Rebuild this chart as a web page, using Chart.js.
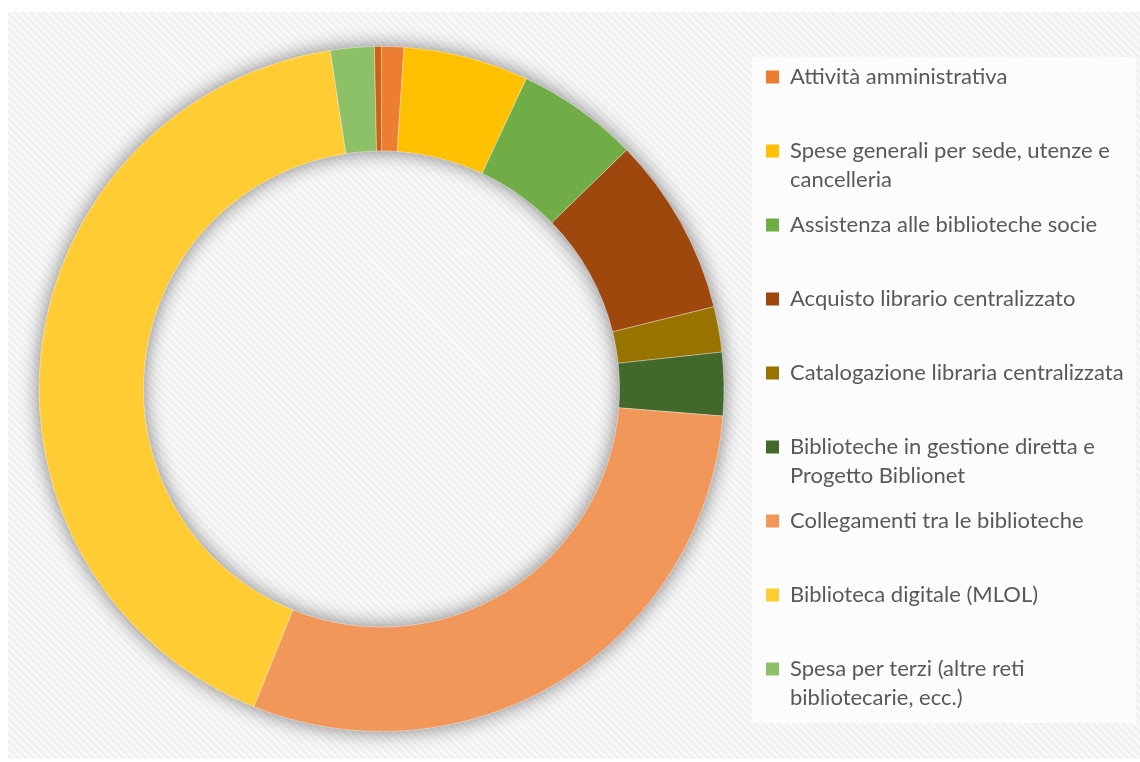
<!DOCTYPE html>
<html>
<head>
<meta charset="utf-8">
<script src="https://cdn.jsdelivr.net/npm/chart.js@4/dist/chart.umd.min.js"></script>
<style>
  html, body { margin: 0; padding: 0; background: #ffffff; }
  #wrap { position: relative; width: 1140px; height: 762px; overflow: hidden; background: #ffffff; }
  #stripes {
    position: absolute; left: 8px; top: 12px; width: 1132px; height: 747px;
    background: repeating-linear-gradient(45deg, #fbfbfb 0px, #efefef 2.7px, #fbfbfb 5.3px);
  }
  #legendBox {
    position: absolute; left: 752px; top: 57px; width: 384px; height: 666px;
    background: #fcfcfc;
  }
  #c { position: absolute; left: 0; top: 0; }
</style>
</head>
<body>
<div id="wrap">
  <div id="stripes"></div>
  <div id="legendBox"></div>
  <canvas id="c" width="1140" height="762"></canvas>
</div>
<script>
// Categories (full names)
const categories = [
  "Attività amministrativa",
  "Spese generali per sede, utenze e cancelleria",
  "Assistenza alle biblioteche socie",
  "Acquisto librario centralizzato",
  "Catalogazione libraria centralizzata",
  "Biblioteche in gestione diretta e Progetto Biblionet",
  "Collegamenti tra le biblioteche",
  "Biblioteca digitale (MLOL)",
  "Spesa per terzi (altre reti bibliotecarie, ecc.)",
  ""
];
// Legend text as displayed (wrapped lines)
const legendLines = [
  ["Attività amministrativa", ""],
  ["Spese generali per sede, utenze e", "cancelleria"],
  ["Assistenza alle biblioteche socie", ""],
  ["Acquisto librario centralizzato", ""],
  ["Catalogazione libraria centralizzata", ""],
  ["Biblioteche in gestione diretta e", "Progetto Biblionet"],
  ["Collegamenti tra le biblioteche", ""],
  ["Biblioteca digitale (MLOL)", ""],
  ["Spesa per terzi (altre reti", "bibliotecarie, ecc.)"]
];
// Share of spending (%)
const shares = [1.05, 5.90, 5.75, 8.44, 2.14, 2.98, 29.82, 41.53, 2.06, 0.33];
const colors = ["#ED7D31", "#FFC000", "#70AD47", "#9E480E", "#997300", "#43682B", "#F1975A", "#FFCD33", "#8CC168", "#D26012"];

// ---- layout helpers (legend width measured the way Chart.js does it) ----
const FONT_SIZE = 22, FONT_FAMILY = 'Lato', LPAD = 16, BOXW = 13;
const mctx = document.createElement('canvas').getContext('2d');
mctx.font = FONT_SIZE + 'px ' + FONT_FAMILY;
let colW = 0;
legendLines.forEach(lines => {
  const longest = lines.reduce((a, b) => a.length > b.length ? a : b);
  colW = Math.max(colW, BOXW + FONT_SIZE / 2 + mctx.measureText(longest).width);
});
const legendW = colW + LPAD + 10;
const legendLeftTarget = 766 - LPAD;          // chart area right edge
const padRight = Math.max(0, 1140 - legendLeftTarget - legendW);
const areaRight = 1140 - padRight - legendW;
const padLeft = Math.round(2 * 381.5 - areaRight);

const ringShadow = {
  id: 'ringShadow',
  beforeDatasetsDraw(chart) {
    const arc = chart.getDatasetMeta(0).data[0];
    if (!arc) return;
    const p = arc.getProps(['x', 'y', 'outerRadius', 'innerRadius'], true);
    const ctx = chart.ctx;
    ctx.save();
    ctx.shadowColor = 'rgba(0,0,0,0.5)';
    ctx.shadowBlur = 20;
    ctx.fillStyle = '#c0c0c0';
    ctx.beginPath();
    ctx.arc(p.x, p.y, p.outerRadius, 0, Math.PI * 2);
    ctx.arc(p.x, p.y, p.innerRadius, 0, Math.PI * 2, true);
    ctx.fill('evenodd');
    ctx.restore();
  }
};

new Chart(document.getElementById('c'), {
  type: 'doughnut',
  data: {
    labels: categories,
    datasets: [{
      data: shares,
      backgroundColor: colors,
      borderColor: 'rgba(255,255,255,0.35)',
      borderWidth: 1,
      hoverBorderWidth: 1,
      hoverOffset: 0
    }]
  },
  options: {
    responsive: false,
    animation: false,
    cutout: '69.5%',
    layout: { padding: { top: 46, bottom: 30, left: padLeft, right: padRight } },
    plugins: {
      tooltip: { enabled: false },
      legend: {
        position: 'right',
        align: 'end',
        labels: {
          boxWidth: BOXW,
          boxHeight: BOXW,
          padding: LPAD,
          color: '#595959',
          font: { family: FONT_FAMILY, size: FONT_SIZE, lineHeight: 29 / FONT_SIZE },
          generateLabels(chart) {
            return legendLines.map((lines, i) => ({
              text: lines,
              fillStyle: colors[i],
              strokeStyle: colors[i],
              lineWidth: 0,
              fontColor: '#595959',
              hidden: false,
              index: i
            }));
          }
        }
      }
    }
  },
  plugins: [ringShadow]
});
</script>
</body>
</html>
